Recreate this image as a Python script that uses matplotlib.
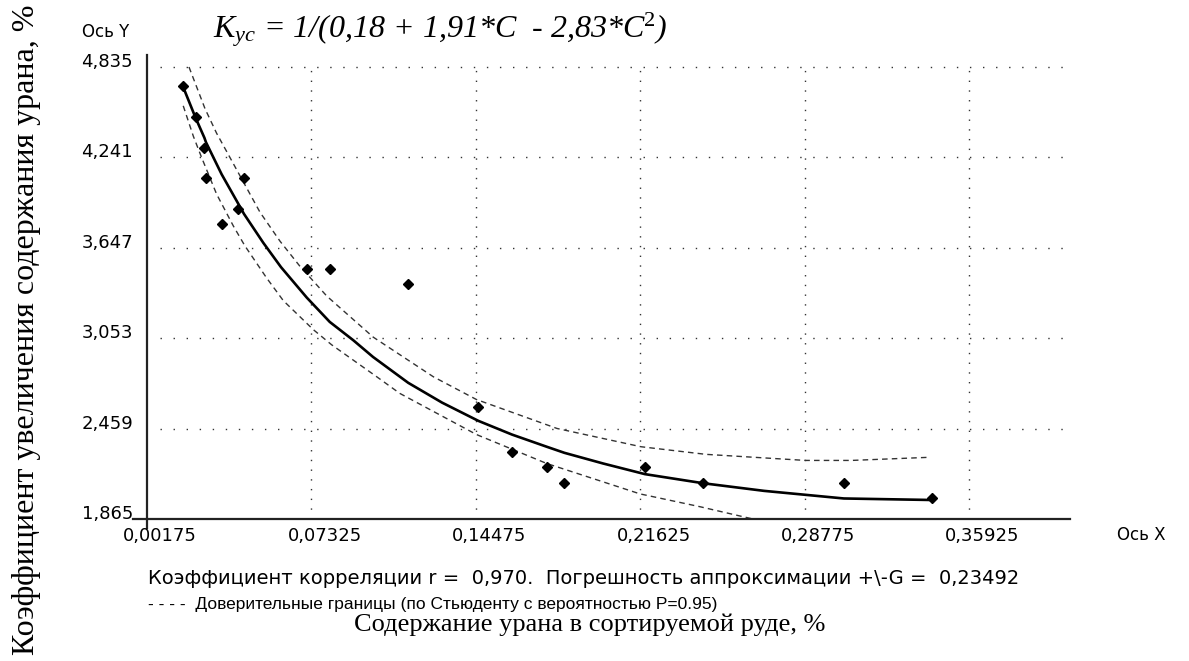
import matplotlib
matplotlib.use("Agg")
import matplotlib.pyplot as plt
from matplotlib.transforms import ScaledTranslation

# ---------------- data ----------------
x_ticks = [0.00175, 0.07325, 0.14475, 0.21625, 0.28775, 0.35925]
x_tick_labels = ["0,00175", "0,07325", "0,14475", "0,21625", "0,28775", "0,35925"]
y_ticks = [1.865, 2.459, 3.053, 3.647, 4.241, 4.835]
y_tick_labels = ["1,865", "2,459", "3,053", "3,647", "4,241", "4,835"]

pts_x = [0.0173, 0.0229, 0.0267, 0.0274, 0.0439, 0.0413, 0.0342, 0.0712, 0.0812,
         0.1153, 0.1458, 0.1604, 0.1755, 0.1832, 0.2182, 0.2436, 0.3047, 0.3429]
pts_y = [4.71, 4.505, 4.30, 4.108, 4.108, 3.904, 3.805, 3.506, 3.506,
         3.407, 2.601, 2.305, 2.205, 2.10, 2.205, 2.104, 2.10, 2.001]

curve_x = [0.0173, 0.0229, 0.0267, 0.0274, 0.0342, 0.0413, 0.0439, 0.0523, 0.0600,
           0.0712, 0.0812, 0.0914, 0.1000, 0.1153, 0.1300, 0.1458, 0.1604, 0.1755,
           0.1832, 0.2000, 0.2182, 0.2436, 0.2700, 0.3047, 0.3429]
curve_y = [4.71, 4.50, 4.37, 4.34, 4.13, 3.94, 3.87, 3.68, 3.52,
           3.32, 3.16, 3.04, 2.93, 2.76, 2.63, 2.51, 2.42, 2.34,
           2.30, 2.23, 2.16, 2.10, 2.05, 2.00, 1.99]

upper_x = [0.0200, 0.0270, 0.0320, 0.0371, 0.0429, 0.0509, 0.0596, 0.0680, 0.0799,
           0.1001, 0.1262, 0.1450, 0.1800, 0.2165, 0.2447, 0.2880, 0.3080, 0.3410]
upper_y = [4.835, 4.56, 4.40, 4.26, 4.10, 3.88, 3.69, 3.53, 3.33,
           3.06, 2.80, 2.65, 2.46, 2.34, 2.29, 2.25, 2.25, 2.27]

lower_x = [0.0175, 0.0219, 0.0255, 0.0320, 0.0393, 0.0443, 0.0537, 0.0610, 0.0740,
           0.0820, 0.1016, 0.1117, 0.1450, 0.1755, 0.2161, 0.2421, 0.2652]
lower_y = [4.58, 4.38, 4.24, 4.00, 3.79, 3.66, 3.45, 3.30, 3.11,
           3.01, 2.80, 2.69, 2.42, 2.23, 2.03, 1.946, 1.865]

title_txt = r"$K_{\mathit{ус}}$ = 1/(0,18 + 1,91*C  - 2,83*C$^{2}$)"
ylabel_txt = "Коэффициент увеличения содержания урана, %"
xlabel_txt = "Содержание урана в сортируемой руде, %"
stat_txt = "Коэффициент корреляции r =  0,970.  Погрешность аппроксимации +\\-G =  0,23492"
legend_txt = "- - - -  Доверительные границы (по Стьюденту с вероятностью P=0.95)"

# ---------------- figure ----------------
plt.rcParams["mathtext.fontset"] = "custom"
plt.rcParams["mathtext.rm"] = "Liberation Serif"
plt.rcParams["mathtext.it"] = "Liberation Serif:italic"

W, H = 1189, 661
fig = plt.figure(figsize=(W / 100, H / 100), dpi=100)
fig.patch.set_facecolor("white")

def fx(px):
    return px / W

def fy(py):
    return 1 - py / H

ax = fig.add_axes([fx(133), fy(528), fx(1070) - fx(133), fy(55) - fy(528)])
ax.set_xlim(-0.00434, 0.4030)
ax.set_ylim(1.806, 4.914)
ax.set_facecolor("white")
for s in ("top", "right"):
    ax.spines[s].set_visible(False)
ax.spines["left"].set_position(("data", x_ticks[0]))
ax.spines["bottom"].set_position(("data", y_ticks[0]))
for s in ("left", "bottom"):
    ax.spines[s].set_linewidth(1.6)
    ax.spines[s].set_color("#222222")
ax.set_xticks([])
ax.set_yticks([])

# dotted grid
ax.hlines(y_ticks[1:], 0.0074, 0.4005, colors="#333333", linestyles=[(0, (1, 8.4))],
          linewidth=1.0, zorder=1)
ax.vlines(x_ticks[1:], y_ticks[0], y_ticks[-1], colors="#333333", linestyles=[(0, (1, 6))],
          linewidth=1.0, zorder=1)

# confidence bands, curve, points
ax.plot(upper_x, upper_y, color="#333333", lw=1.0, ls=(0, (4, 3)), zorder=2)
ax.plot(lower_x, lower_y, color="#333333", lw=1.0, ls=(0, (4, 3)), zorder=2)
ax.plot(curve_x, curve_y, color="black", lw=1.9, zorder=3)
ax.plot(pts_x, pts_y, ls="none", marker="D", ms=5, mfc="black", mec="black", zorder=4)

# tick labels
sans = "DejaVu Sans"
for xv, lab in zip(x_ticks, x_tick_labels):
    ax.text(xv, y_ticks[0], lab, ha="left", va="top", fontsize=13, family=sans,
            transform=ax.transData + ScaledTranslation(-24 / 100, -8 / 100, fig.dpi_scale_trans))
for yv, lab in zip(y_ticks, y_tick_labels):
    ax.text(x_ticks[0], yv, lab, ha="right", va="center", fontsize=13, family=sans,
            transform=ax.transData + ScaledTranslation(-14 / 100, 5 / 100, fig.dpi_scale_trans))

# axis names
fig.text(fx(82), fy(32), "Ось Y", ha="left", va="center", fontsize=12, family=sans)
fig.text(fx(1117), fy(535), "Ось X", ha="left", va="center", fontsize=12, family=sans)

# formula
fig.text(fx(440), fy(30), title_txt, ha="center", va="center", fontsize=23,
         family="Liberation Serif", style="italic")

# statistics lines
fig.text(fx(148), fy(578), stat_txt, ha="left", va="center", fontsize=14, family=sans)
fig.text(fx(148), fy(604), legend_txt, ha="left", va="center", fontsize=12.5,
         family="Liberation Sans")

# axis titles
fig.text(fx(590), fy(625), xlabel_txt, ha="center", va="center", fontsize=19,
         family="Liberation Serif")
fig.text(fx(27), fy(330), ylabel_txt, ha="center", va="center", rotation=90, fontsize=23,
         family="Liberation Serif")

fig.savefig("out.png", dpi=100, facecolor="white")
